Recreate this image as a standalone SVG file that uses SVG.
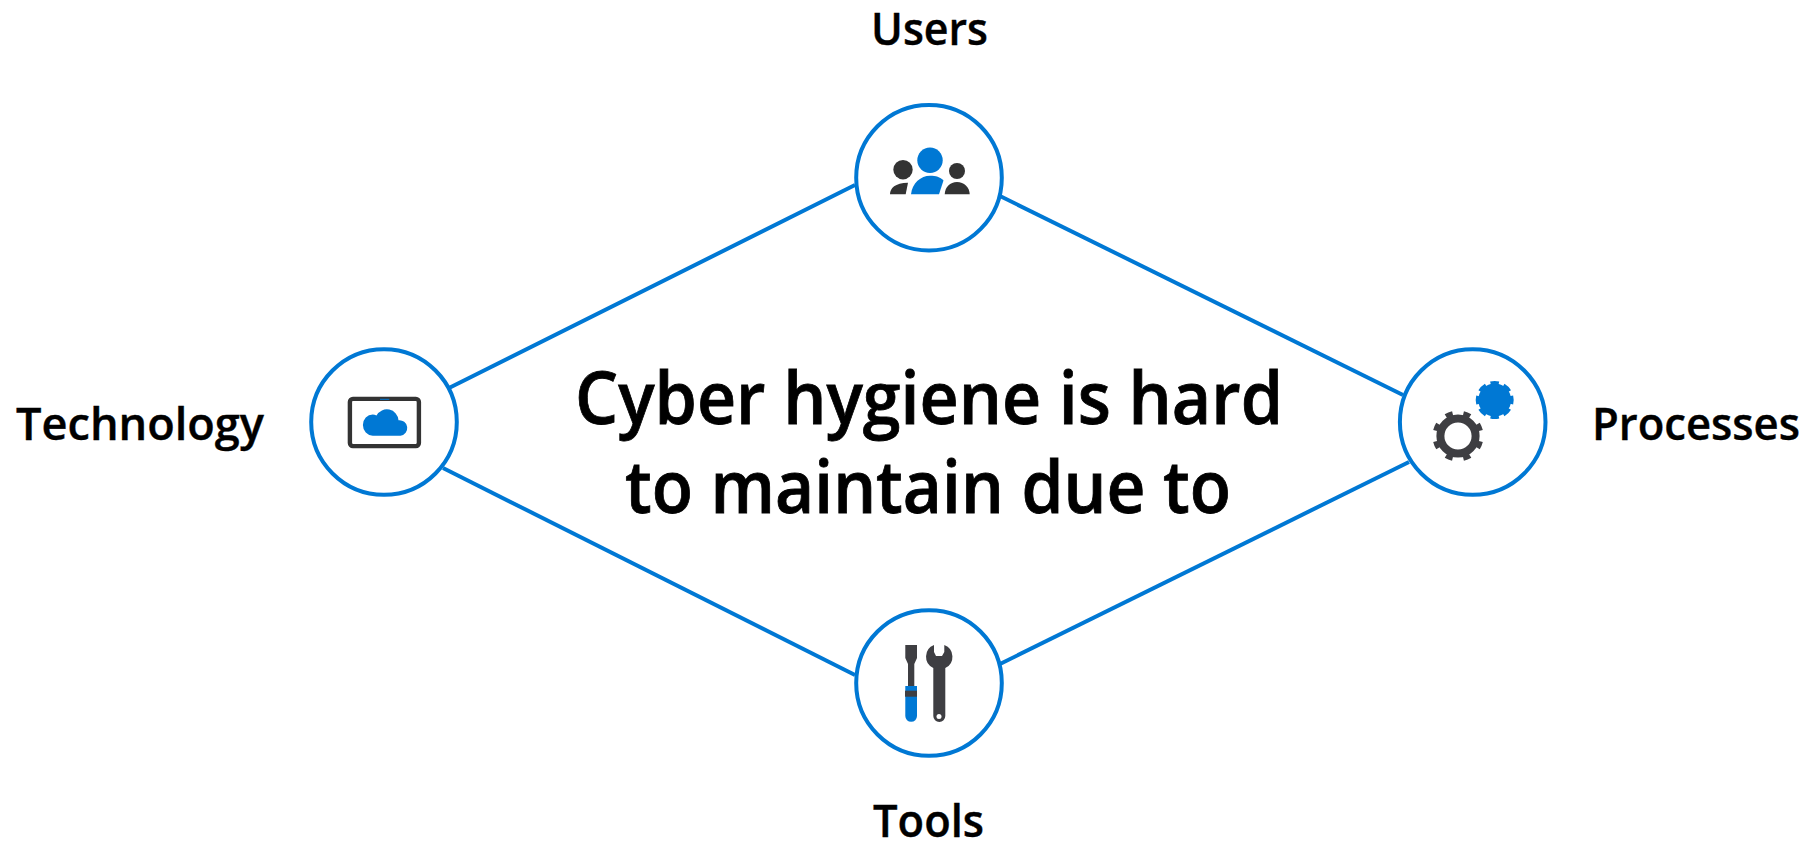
<svg xmlns="http://www.w3.org/2000/svg" width="1814" height="843" viewBox="0 0 1814 843">
<style>
.ring{fill:#fff;stroke:#0078d4;stroke-width:4}
.conn{stroke:#0078d4;stroke-width:4;fill:none}
.lab{font-family:"Open Sans","Noto Sans",sans-serif;font-weight:600;font-size:45px;fill:#000;stroke:#000;stroke-width:.4;text-anchor:middle}
.title{font-family:"Open Sans","Noto Sans",sans-serif;font-weight:600;font-size:73px;fill:#000;stroke:#000;stroke-width:.8;text-anchor:middle}
.b{fill:#0078d4}.d{fill:#333}.g{fill:#3e3e42}
</style>
<rect width="1814" height="843" fill="#fff"/>
<g id="connectors">
<line class="conn" x1="855" y1="185" x2="449" y2="388"/>
<line class="conn" x1="1000" y1="196" x2="1403" y2="395"/>
<line class="conn" x1="443" y1="468" x2="855" y2="675"/>
<line class="conn" x1="1409" y1="462" x2="1000" y2="664"/>
</g>
<g id="title"><text class="title" x="929" y="423.5" textLength="708" lengthAdjust="spacingAndGlyphs">Cyber hygiene is hard</text><text class="title" x="928" y="512.5" textLength="606" lengthAdjust="spacingAndGlyphs">to maintain due to</text></g>
<g id="users">
<circle class="ring" cx="929" cy="177.7" r="72.8"/>
<circle class="b" cx="930" cy="160.3" r="12.7"/>
<path class="b" d="M911 194.3C912 183 921 175.7 930 175.7C936 175.7 940 177 943.5 180.5L939 194.3Z"/>
<circle class="d" cx="903" cy="169.7" r="9.7"/>
<path class="d" d="M890 194.3C890 188 895 183 908 182.7L905.7 194.3Z"/>
<circle class="d" cx="957" cy="171" r="8"/>
<path class="d" d="M944.7 194.3C945 187 950 182 957 182C964 182 969.5 187 969.7 194.3Z"/>
<text class="lab" x="929.5" y="45" textLength="117" lengthAdjust="spacingAndGlyphs">Users</text>
</g>
<g id="technology">
<circle class="ring" cx="384" cy="422" r="72.8"/>
<rect x="349.9" y="398.9" width="69" height="47.2" rx="3" fill="#fff" stroke="#333" stroke-width="4.4"/>
<rect class="b" x="380" y="398.8" width="9.3" height="1"/>
<path class="b" d="M372.7 435.7A9.7 10.5 0 0 1 372.7 414.5Q374.5 414.5 376.5 415.5A11.7 11.7 0 0 1 398.5 420.3A7.7 7.7 0 0 1 400.5 435.7Z"/>
<text class="lab" x="140" y="440" textLength="248" lengthAdjust="spacingAndGlyphs">Technology</text>
</g>
<g id="processes">
<circle class="ring" cx="1472.7" cy="422" r="72.8"/>
<circle cx="1458" cy="436" r="17.6" fill="none" stroke="#3e3e42" stroke-width="8"/>
<circle cx="1458" cy="436" r="22.5" fill="none" stroke="#3e3e42" stroke-width="6" pathLength="8" stroke-dasharray=".4 .6" transform="rotate(13.5 1458 436)"/>
<circle class="b" cx="1494.7" cy="400" r="16.5"/>
<circle cx="1494.7" cy="400" r="17" fill="none" stroke="#0078d4" stroke-width="4" pathLength="8" stroke-dasharray=".62 .38" transform="rotate(-14 1494.7 400)"/>
<text class="lab" x="1696" y="440" textLength="208" lengthAdjust="spacingAndGlyphs">Processes</text>
</g>
<g id="tools">
<circle class="ring" cx="929" cy="683" r="72.8"/>
<path class="g" d="M905.3 645H917V658L914.3 664V691H908V664L905.3 658Z"/>
<path class="b" d="M905.3 686H917V716A5.85 5.85 0 0 1 905.3 716Z"/>
<rect class="g" x="905" y="690.7" width="12" height="6"/>
<path class="g" d="M934 645V652L936 656H942L944.3 652V645A12.5 12.5 0 0 1 945.3 668V716A6 6 0 0 1 933.3 716V668A12.5 12.5 0 0 1 934 645Z"/>
<circle cx="939" cy="716.5" r="2.5" fill="#fff"/>
<text class="lab" x="928.5" y="836.7" textLength="111" lengthAdjust="spacingAndGlyphs">Tools</text>
</g>
</svg>
